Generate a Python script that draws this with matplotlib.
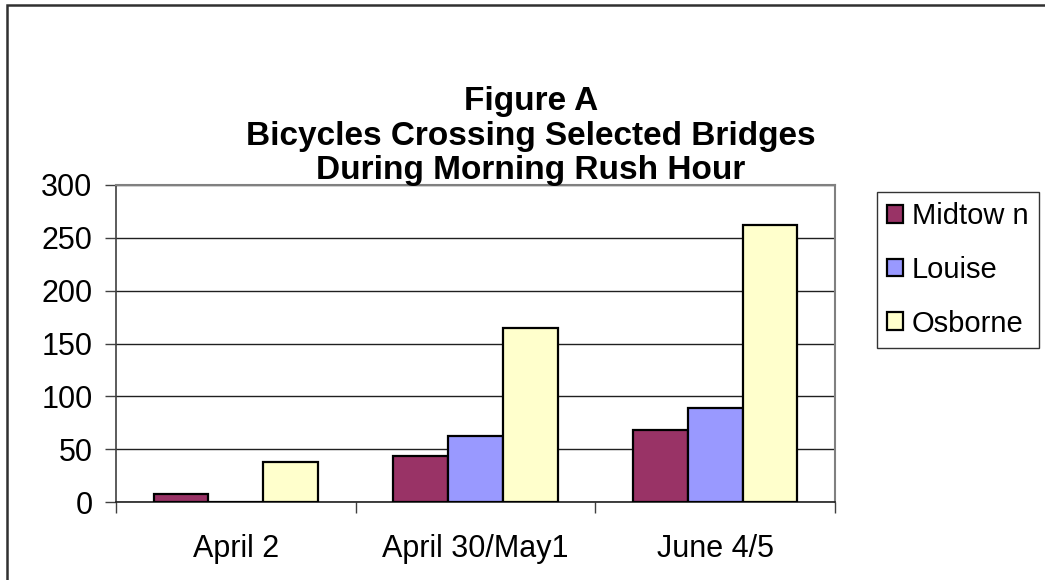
import numpy as np
import matplotlib.pyplot as plt
from matplotlib.patches import Rectangle

plt.rcParams['font.family'] = ['Liberation Sans', 'DejaVu Sans']

categories = ["April 2", "April 30/May1", "June 4/5"]
midtown = [8, 44, 68]
louise = [0, 62, 89]
osborne = [38, 165, 262]

series = [("Midtow n", midtown, "#993366"),
          ("Louise", louise, "#9999FF"),
          ("Osborne", osborne, "#FFFFCC")]

fig = plt.figure(figsize=(10.45, 5.8), dpi=100)
ax = fig.add_axes([116 / 1045, 1 - 502 / 580, (835 - 116) / 1045, (502 - 185) / 580])

x = np.arange(len(categories))
w = 0.229
for i, (name, vals, col) in enumerate(series):
    ax.bar(x + (i - 1) * w, vals, w, color=col, edgecolor="black", linewidth=1.6,
           label=name, zorder=3)

ax.set_xlim(-0.5, 2.5)
ax.set_ylim(0, 300)
ax.set_yticks(range(0, 301, 50))
ax.yaxis.grid(True, color="#202020", linewidth=1.0, zorder=0)
ax.set_xticks(x)
ax.set_xticklabels(categories)
ax.set_xticks([-0.5, 0.5, 1.5, 2.5], minor=True)
ax.tick_params(axis="x", which="major", length=0, labelsize=22, pad=23)
ax.tick_params(axis="x", which="minor", length=8, width=1, color="#404040")
ax.tick_params(axis="y", length=8, width=1, color="#404040", labelsize=22, pad=9)

for s in ["top", "right"]:
    ax.spines[s].set_color("#808080")
    ax.spines[s].set_linewidth(1.5)
ax.spines["left"].set_color("#404040")
ax.spines["bottom"].set_color("#202020")
ax.spines["left"].set_linewidth(1.2)
ax.spines["bottom"].set_linewidth(1.2)

# title is centred on the whole chart area, not on the plot
fig.text(531 / 1045, 1 - 136 / 580,
         "Figure A\nBicycles Crossing Selected Bridges\nDuring Morning Rush Hour",
         ha="center", va="center", fontsize=24, fontweight="bold", linespacing=1.13)

leg = fig.legend(loc="upper left", bbox_to_anchor=(877 / 1045, 1 - 192 / 580),
                 fontsize=21, frameon=True, fancybox=False, edgecolor="black",
                 borderpad=0.35, labelspacing=0.88, handlelength=0.55, handleheight=0.55,
                 handletextpad=0.3, borderaxespad=0)
leg.get_frame().set_linewidth(1.0)

fig.patches.append(Rectangle((7 / 1045, -0.1), 1.2, 1.1 - 5 / 580, transform=fig.transFigure,
                             fill=False, edgecolor="#303030", linewidth=1.8))

fig.savefig("out.png", dpi=100)
